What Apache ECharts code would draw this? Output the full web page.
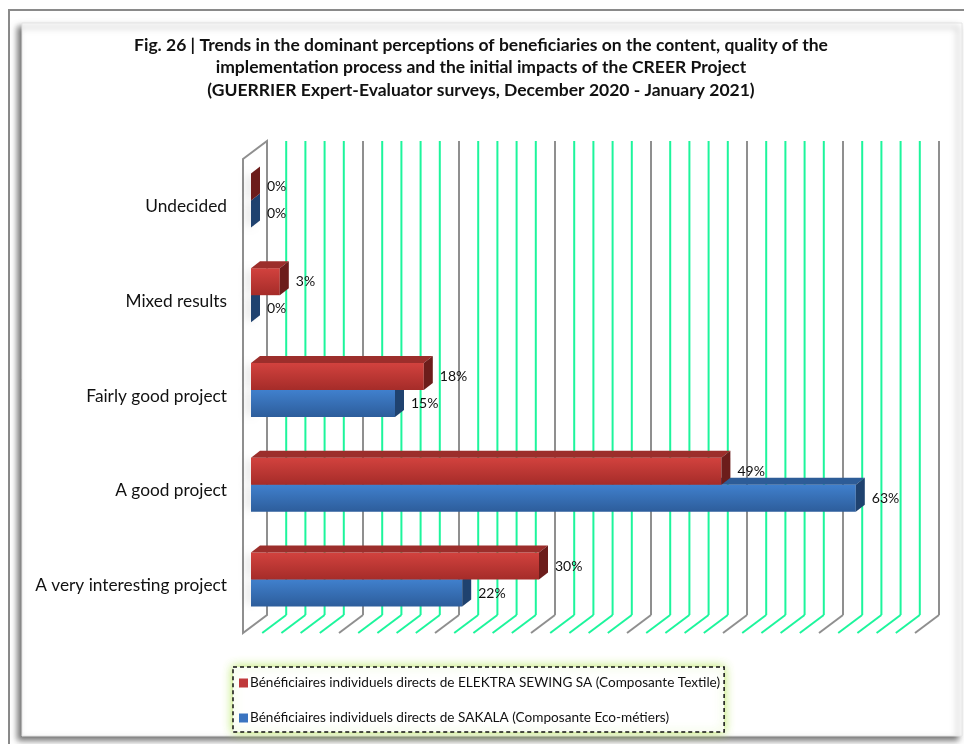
<!DOCTYPE html>
<html>
<head>
<meta charset="utf-8">
<script src="https://cdn.jsdelivr.net/npm/echarts@6/dist/echarts.min.js"></script>
<style>
  html, body { margin: 0; padding: 0; background: #ffffff; }
  #chart { width: 964px; height: 744px; }
</style>
</head>
<body>
<div id="chart"></div>
<script>
// Categories, bottom to top on the value chart
const categories = [
  'A very interesting project',
  'A good project',
  'Fairly good project',
  'Mixed results',
  'Undecided'
];
// Shares (%) per category
const elektraValues = [30, 49, 18, 3, 0];
const sakalaValues  = [22, 63, 15, 0, 0];
// Positions of the wall / floor gridlines (%)
const gridTicks = [0, 2, 4, 6, 8, 10, 12, 14, 16, 18, 20, 22, 24, 26, 28, 30, 32, 34,
                   36, 38, 40, 42, 44, 46, 48, 50, 52, 54, 56, 58, 60, 62, 64, 66, 68, 70];

const elektraName = 'Bénéficiaires individuels directs de ELEKTRA SEWING SA (Composante Textile)';
const sakalaName = 'Bénéficiaires individuels directs de SAKALA (Composante Eco-métiers)';
const titleText = 'Fig. 26 | Trends in the dominant perceptions of beneficiaries on the content, quality of the\n' +
  'implementation process and the initial impacts of the CREER Project\n' +
  '(GUERRIER Expert-Evaluator surveys, December 2020 - January 2021)';

const FONT = 'Lato, "Open Sans", sans-serif';
const WALL = [24, -18];     // depth of the pseudo-3D box
const BAR_OFF = [8, -6];    // bar front plane inside the box
const BAR_DEPTH = [9, -7];  // thickness of each bar

const palettes = {
  red:  { front: ['#d2423e', '#a52c29'], top: '#9c2e2b', side: '#6c1d1b' },
  blue: { front: ['#4080cd', '#2d5d9b'], top: '#2d5c97', side: '#1f426f' }
};

function renderWall(params, api) {
  const v = api.value(0);
  const cs = params.coordSys;
  const x = api.coord([v, 0])[0];
  const top = cs.y, bottom = cs.y + cs.height;
  const color = v % 10 === 0 ? '#8f8f8f' : '#1df59c';
  if (v === 0) {
    return {
      type: 'polygon',
      shape: { points: [[x, top], [x + WALL[0], top + WALL[1]], [x + WALL[0], bottom + WALL[1]], [x, bottom]] },
      style: { fill: '#ffffff', stroke: '#8f8f8f', lineWidth: 2 }
    };
  }
  return {
    type: 'group',
    children: [
      { type: 'line', shape: { x1: x + WALL[0], y1: top + WALL[1], x2: x + WALL[0], y2: bottom + WALL[1] },
        style: { stroke: color, lineWidth: 2 } },
      { type: 'line', shape: { x1: x + WALL[0], y1: bottom + WALL[1], x2: x, y2: bottom },
        style: { stroke: color, lineWidth: 2 } }
    ]
  };
}

function barRenderer(upper, pal) {
  return function (params, api) {
    const v = api.value(0), idx = api.value(1);
    const end = api.coord([v, idx]);
    const start = api.coord([0, idx]);
    const band = api.size([0, 1])[1];
    const h = band * 0.285;
    const cy = end[1] + BAR_OFF[1];
    const y0 = upper ? cy - h : cy;
    const y1 = y0 + h;
    const x0 = start[0] + BAR_OFF[0];
    const x1 = end[0] + BAR_OFF[0];
    const dx = BAR_DEPTH[0], dy = BAR_DEPTH[1];
    const children = [];
    // soft shadow cast on the side wall
    children.push({
      type: 'rect', shape: { x: x0, y: y0 + 2, width: 3, height: h - 4 },
      style: { fill: 'rgba(120,120,120,0.5)', shadowBlur: 8, shadowColor: 'rgba(0,0,0,0.45)', shadowOffsetX: -3 }
    });
    if (x1 > x0) {
      children.push({
        type: 'rect', shape: { x: x0, y: y0, width: x1 - x0, height: h },
        style: { fill: new echarts.graphic.LinearGradient(0, 0, 0, 1, [
          { offset: 0, color: pal.front[0] }, { offset: 1, color: pal.front[1] }]) }
      });
      children.push({
        type: 'polygon', shape: { points: [[x0, y0], [x0 + dx, y0 + dy], [x1 + dx, y0 + dy], [x1, y0]] },
        style: { fill: pal.top }
      });
    }
    children.push({
      type: 'polygon', shape: { points: [[x1, y0], [x1 + dx, y0 + dy], [x1 + dx, y1 + dy], [x1, y1]] },
      style: { fill: pal.side }
    });
    children.push({
      type: 'text',
      style: { text: v + '%', x: x1 + 16, y: (y0 + y1) / 2, verticalAlign: 'middle', align: 'left',
               font: '14px ' + FONT, fill: '#111111' }
    });
    return { type: 'group', children: children };
  };
}

const chart = echarts.init(document.getElementById('chart'), null, { renderer: 'canvas' });

chart.setOption({
  animation: false,
  backgroundColor: '#ffffff',
  graphic: [
    { type: 'rect', z: -10, shape: { x: 9, y: 10, width: 1000, height: 1000 },
      style: { fill: '#ffffff', stroke: '#8a8a8a', lineWidth: 2 } },
    { type: 'rect', z: -9, shape: { x: 22, y: 23, width: 940, height: 713 },
      style: { fill: '#ffffff', stroke: '#e4e4e4', lineWidth: 1,
               shadowBlur: 6, shadowColor: 'rgba(0,0,0,0.55)', shadowOffsetX: -4, shadowOffsetY: 4 } }
  ],
  title: {
    text: titleText,
    left: 476,
    top: 29,
    textAlign: 'center',
    textStyle: { fontFamily: FONT, fontSize: 17.5, fontWeight: 'bold', color: '#111111', lineHeight: 22.5 }
  },
  legend: {
    data: [elektraName, sakalaName],
    orient: 'vertical',
    left: 233,
    top: 667,
    itemWidth: 9,
    itemHeight: 9,
    itemGap: 21,
    icon: 'rect',
    padding: [9, 4, 7, 6],
    borderColor: '#111111',
    borderWidth: 1.5,
    borderType: [4, 3],
    backgroundColor: '#ffffff',
    shadowBlur: 10,
    shadowColor: 'rgba(170,225,60,0.8)',
    textStyle: { fontFamily: FONT, fontSize: 13.6, color: '#111111', padding: [0, 0, 0, -3] }
  },
  grid: { left: 243, top: 159, width: 672, height: 474, containLabel: false },
  xAxis: {
    type: 'value', min: 0, max: 70, interval: 10,
    axisLine: { show: false }, axisTick: { show: false },
    axisLabel: { show: false }, splitLine: { show: false }
  },
  yAxis: {
    type: 'category', data: categories,
    axisLine: { show: false }, axisTick: { show: false },
    axisLabel: { fontFamily: FONT, fontSize: 17.3, color: '#111111', margin: 16 }
  },
  series: [
    {
      type: 'custom', name: 'walls', silent: true, z: 1,
      data: gridTicks.map(v => [v, 0]),
      encode: { x: 0, y: 1 },
      renderItem: renderWall
    },
    {
      type: 'custom', name: sakalaName, z: 2,
      itemStyle: { color: '#3a74c0' },
      data: sakalaValues.map((v, i) => [v, i]),
      encode: { x: 0, y: 1 },
      renderItem: barRenderer(false, palettes.blue)
    },
    {
      type: 'custom', name: elektraName, z: 3,
      itemStyle: { color: '#c0393a' },
      data: elektraValues.map((v, i) => [v, i]),
      encode: { x: 0, y: 1 },
      renderItem: barRenderer(true, palettes.red)
    }
  ]
});
</script>
</body>
</html>
